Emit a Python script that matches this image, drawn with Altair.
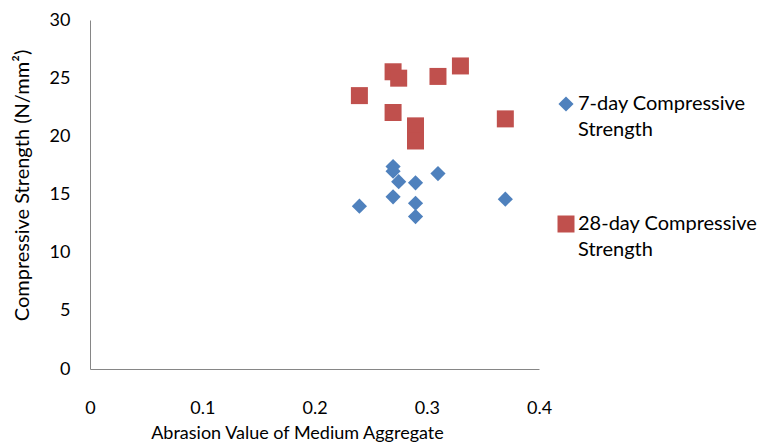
import altair as alt
import pandas as pd

# Abrasion value of medium aggregate vs compressive strength
series_7 = "7-day Compressive Strength"
series_28 = "28-day Compressive Strength"

abrasion_7 = [0.24, 0.27, 0.27, 0.275, 0.27, 0.29, 0.29, 0.29, 0.31, 0.37]
strength_7 = [14.0, 17.4, 17.0, 16.1, 14.8, 16.0, 14.25, 13.1, 16.8, 14.6]

abrasion_28 = [0.24, 0.27, 0.275, 0.27, 0.29, 0.29, 0.31, 0.33, 0.37]
strength_28 = [23.5, 25.55, 25.0, 22.05, 20.9, 19.6, 25.15, 26.05, 21.5]

x_ticks = [0, 0.1, 0.2, 0.3, 0.4]
y_ticks = [0, 5, 10, 15, 20, 25, 30]

df = pd.concat([
    pd.DataFrame({"abrasion": abrasion_7, "strength": strength_7, "series": series_7}),
    pd.DataFrame({"abrasion": abrasion_28, "strength": strength_28, "series": series_28}),
])

FONT = "Lato"
AXIS_FS = 18
LEGEND_FS = 20
series_order = [series_7, series_28]

# split each legend label into two lines at its last space
two_lines = ("[slice(datum.label, 0, lastindexof(datum.label, ' ')), "
             "slice(datum.label, lastindexof(datum.label, ' ') + 1)]")
legend = alt.Legend(title=None, labelExpr=two_lines)

chart = alt.Chart(df).mark_point(filled=True, opacity=1, strokeWidth=0).encode(
    x=alt.X("abrasion:Q",
            scale=alt.Scale(domain=[0, 0.4], nice=False, zero=True),
            axis=alt.Axis(values=x_ticks, title="Abrasion Value of Medium Aggregate",
                          labelExpr="datum.value == 0 ? '0' : format(datum.value, '.1f')",
                          labelFlush=False,
                          labelPadding=30, titleX=207, titleY=64,
                          titleBaseline="middle", titleAlign="center")),
    y=alt.Y("strength:Q",
            scale=alt.Scale(domain=[0, 30], nice=False),
            axis=alt.Axis(values=y_ticks, title="Compressive Strength (N/mm²)",
                          labelPadding=20, titleX=-68, titleY=165, titleFontSize=20,
                          titleBaseline="middle", titleAlign="center")),
    color=alt.Color("series:N", sort=series_order,
                    scale=alt.Scale(domain=series_order, range=["#4F81BD", "#C0504D"]),
                    legend=legend),
    shape=alt.Shape("series:N", sort=series_order,
                    scale=alt.Scale(domain=series_order, range=["diamond", "square"]),
                    legend=legend),
    size=alt.Size("series:N", sort=series_order,
                  scale=alt.Scale(domain=series_order, range=[230, 289]),
                  legend=legend),
).properties(
    width=449,
    height=349,
    autosize=alt.AutoSizeParams(type="none"),
    padding={"left": 90, "top": 20, "right": 219, "bottom": 76},
).configure(
    style={"guide-label": {"lineHeight": 26}},
).configure_view(
    stroke=None
).configure_axis(
    grid=False,
    ticks=False,
    domainColor="#868686",
    domainWidth=1,
    labelFont=FONT,
    labelFontSize=AXIS_FS,
    labelColor="#000000",
    titleFont=FONT,
    titleFontSize=AXIS_FS,
    titleFontWeight="normal",
    titleColor="#000000",
).configure_axisY(
    labelBaseline="middle",
).configure_legend(
    orient="none",
    legendX=466,
    legendY=74,
    padding=0,
    labelFont=FONT,
    labelFontSize=LEGEND_FS,
    labelColor="#000000",
    labelLimit=300,
    labelOffset=2,
    rowPadding=74,
    symbolStrokeWidth=0,
)

chart.save("out.html", embed_options={"renderer": "svg", "actions": False})
